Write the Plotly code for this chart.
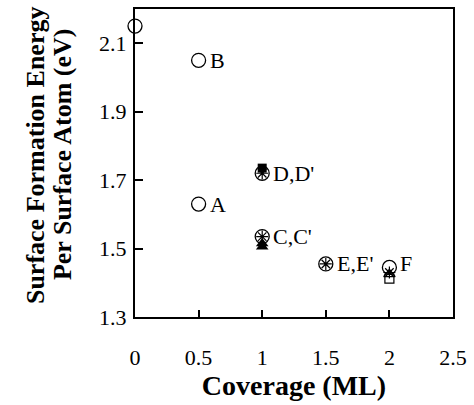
import plotly.graph_objects as go

# data
circ_x = [0, 0.5, 0.5, 1, 1, 1.5, 2]
circ_y = [2.15, 2.05, 1.63, 1.72, 1.535, 1.455, 1.445]
ast_x = [1, 1, 1.5, 2]
ast_y = [1.72, 1.535, 1.455, 1.43]
sq_x = [1]
sq_y = [1.735]
tri_x = [1, 1]
tri_y = [1.505, 1.515]
otri_x = [2]
otri_y = [1.425]
osq_x = [2]
osq_y = [1.412]
lab_x = [0.5, 0.5, 1, 1, 1.5, 2]
lab_y = [2.05, 1.63, 1.72, 1.535, 1.455, 1.455]
lab_t = ["B", "A", "D,D'", "C,C'", "E,E'", "F"]
xticks = [0, 0.5, 1, 1.5, 2, 2.5]
xtick_text = ["0", "0.5", "1", "1.5", "2", "2.5"]
yticks = [1.3, 1.5, 1.7, 1.9, 2.1]
ytick_text = ["1.3", "1.5", "1.7", "1.9", "2.1"]
ytitle_lines = ["Surface Formation Energy", "Per Surface Atom (eV)"]

FONT = "Liberation Serif, Times New Roman, serif"
fig = go.Figure()
fig.add_trace(go.Scatter(x=sq_x, y=sq_y, mode="markers", cliponaxis=False,
    marker=dict(symbol="square", size=9, color="black")))
fig.add_trace(go.Scatter(x=tri_x, y=tri_y, mode="markers", cliponaxis=False,
    marker=dict(symbol="triangle-up", size=11, color="black")))
fig.add_trace(go.Scatter(x=otri_x, y=otri_y, mode="markers", cliponaxis=False,
    marker=dict(symbol="triangle-up-open", size=10, color="black", line=dict(width=1.2))))
fig.add_trace(go.Scatter(x=osq_x, y=osq_y, mode="markers", cliponaxis=False,
    marker=dict(symbol="square-open", size=9, color="black", line=dict(width=1.2))))
fig.add_trace(go.Scatter(x=circ_x, y=circ_y, mode="markers", cliponaxis=False,
    marker=dict(symbol="circle-open", size=14, color="black", line=dict(width=1.3))))
fig.add_trace(go.Scatter(x=ast_x, y=ast_y, mode="markers", cliponaxis=False,
    marker=dict(symbol="asterisk-open", size=10, color="black", line=dict(width=1.2))))

for x, y, t in zip(lab_x, lab_y, lab_t):
    fig.add_annotation(x=x, y=y, text=t, showarrow=False, xanchor="left",
                       xshift=9, font=dict(family=FONT, size=22, color="black"))

# y title as two rotated lines
for px, t in zip([35, 62], ytitle_lines):
    fig.add_annotation(xref="paper", yref="paper", x=(px - 135) / 318, y=(317 - 154) / 310,
                       text="<b>" + t + "</b>", textangle=-90, showarrow=False,
                       xanchor="center", yanchor="middle",
                       font=dict(family=FONT, size=26, color="black"))

fig.update_layout(
    width=474, height=405, showlegend=False,
    margin=dict(l=135, r=21, t=7, b=88),
    plot_bgcolor="white", paper_bgcolor="white",
    font=dict(family=FONT, color="black", size=22),
    xaxis=dict(range=[0, 2.5], tickvals=xticks, ticktext=xtick_text,
               ticks="inside", ticklen=7, tickwidth=1.5, tickcolor="black",
               showline=True, linewidth=2, linecolor="black", mirror=True,
               showgrid=False, zeroline=False, ticklabelstandoff=20,
               title=dict(text="<b>Coverage (ML)</b>", font=dict(size=28), standoff=4)),
    yaxis=dict(range=[1.3, 2.2], tickvals=yticks, ticktext=ytick_text,
               ticks="inside", ticklen=8, tickwidth=1.5, tickcolor="black",
               showline=True, linewidth=2, linecolor="black", mirror=True,
               showgrid=False, zeroline=False, ticklabelstandoff=2),
)
fig.write_html("out.html", config={"displayModeBar": False},
               post_script="document.body.style.margin='0';")
